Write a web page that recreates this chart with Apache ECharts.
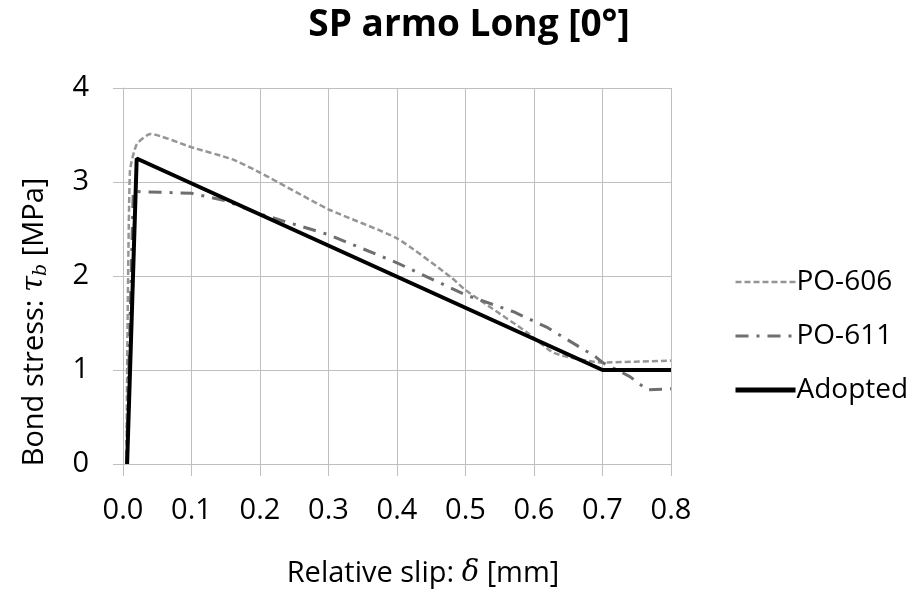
<!DOCTYPE html>
<html>
<head>
<meta charset="utf-8">
<script src="https://cdn.jsdelivr.net/npm/echarts@6/dist/echarts.min.js"></script>
<style>
  html, body { margin: 0; padding: 0; background: #fff; }
  #chart { width: 921px; height: 594px; }
</style>
</head>
<body>
<div id="chart"></div>
<script>
// slip [mm], stress [MPa]
const po606 = [
  [0.005, 0], [0.01, 3.1], [0.02, 3.4], [0.04, 3.51], [0.1, 3.37], [0.16, 3.24],
  [0.2, 3.1], [0.3, 2.71], [0.4, 2.4], [0.48, 1.98], [0.5, 1.85], [0.59, 1.4],
  [0.63, 1.18], [0.7, 1.08], [0.8, 1.1]
];
const po611 = [
  [0.005, 0], [0.015, 2.9], [0.1, 2.88], [0.15, 2.8], [0.2, 2.66], [0.3, 2.44],
  [0.4, 2.14], [0.5, 1.8], [0.57, 1.62], [0.62, 1.45], [0.69, 1.14], [0.7, 1.08],
  [0.74, 0.93], [0.765, 0.79], [0.8, 0.8]
];
const adopted = [[0.006, 0], [0.02, 3.25], [0.7, 1.0], [0.8, 1.0]];
const seriesNames = ['PO-606', 'PO-611', 'Adopted'];

const font = "'Open Sans', 'Noto Sans', sans-serif";
const chart = echarts.init(document.getElementById('chart'));

const option = {
  animation: false,
  title: {
    text: 'SP armo Long [0°]',
    left: 464,
    textAlign: 'center',
    top: 2,
    textStyle: { fontFamily: font, fontSize: 37, fontWeight: 'bold', color: '#000' }
  },
  grid: { left: 123, right: 250, top: 88, bottom: 130 },
  legend: {
    orient: 'vertical',
    left: 728,
    top: 263,
    itemWidth: 60,
    itemHeight: 14,
    itemGap: 26,
    data: [
      { name: seriesNames[0], lineStyle: { width: 2.5 } },
      { name: seriesNames[1], lineStyle: { width: 3 } },
      { name: seriesNames[2], lineStyle: { width: 5 } }
    ],
    itemStyle: { opacity: 0 },
    textStyle: { fontFamily: font, fontSize: 28, color: '#000', padding: [0, 0, 0, -4] }
  },
  xAxis: {
    type: 'value',
    min: 0, max: 0.8, interval: 0.1,
    name: 'Relative slip: {i|δ} [mm]',
    nameLocation: 'middle',
    nameGap: 95,
    nameTextStyle: {
      fontFamily: font, fontSize: 29, color: '#000', padding: [0, 0, 0, 52],
      rich: { i: { fontFamily: 'DejaVu Serif', fontStyle: 'italic', fontSize: 29 } }
    },
    axisLine: { lineStyle: { color: '#bfbfbf' } },
    axisTick: { show: true, length: 12, lineStyle: { color: '#bfbfbf' } },
    splitLine: { lineStyle: { color: '#bfbfbf', width: 1 } },
    axisLabel: {
      fontFamily: font, fontSize: 29, color: '#000', margin: 32,
      formatter: v => v.toFixed(1)
    }
  },
  yAxis: {
    type: 'value',
    min: 0, max: 4, interval: 1,
    name: 'Bond stress: {i|τ}{s|b} [MPa]',
    nameLocation: 'middle',
    nameGap: 72,
    nameTextStyle: {
      fontFamily: font, fontSize: 29, color: '#000', padding: [0, 92, 0, 0],
      rich: {
        i: { fontFamily: 'DejaVu Serif', fontStyle: 'italic', fontSize: 29 },
        s: { fontFamily: 'DejaVu Serif', fontStyle: 'italic', fontSize: 19, verticalAlign: 'bottom', padding: [14, 0, 0, 0] }
      }
    },
    axisLine: { show: true, lineStyle: { color: '#bfbfbf' } },
    axisTick: { show: true, length: 10, lineStyle: { color: '#bfbfbf' } },
    splitLine: { lineStyle: { color: '#bfbfbf', width: 1 } },
    axisLabel: { fontFamily: font, fontSize: 29, color: '#000', margin: 34 }
  },
  series: [
    {
      name: 'PO-606', type: 'line', data: po606, symbol: 'none', smooth: 0.2,
      lineStyle: { color: '#959595', width: 2.5, type: [6, 3] },
      itemStyle: { color: '#959595' }
    },
    {
      name: 'PO-611', type: 'line', data: po611, symbol: 'none',
      lineStyle: { color: '#6e6e6e', width: 3, type: [13, 8, 3, 8] },
      itemStyle: { color: '#6e6e6e' }
    },
    {
      name: 'Adopted', type: 'line', data: adopted, symbol: 'none',
      lineStyle: { color: '#000', width: 4 },
      itemStyle: { color: '#000' }
    }
  ]
};
chart.setOption(option);
</script>
</body>
</html>
